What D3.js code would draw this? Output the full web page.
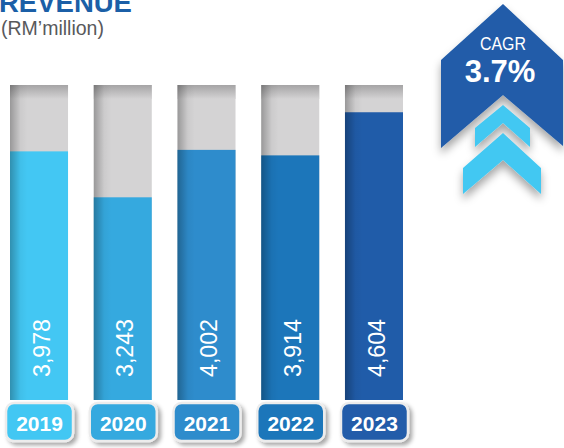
<!DOCTYPE html>
<html>
<head>
<meta charset="utf-8">
<script src="https://cdn.jsdelivr.net/npm/d3@7"></script>
<style>
  body { margin: 0; background: #fff; }
  svg { display: block; font-family: "Liberation Sans", Arial, Helvetica, sans-serif; }
</style>
</head>
<body>
<div id="chart"></div>
<script>
// revenue, RM'million
var years = ["2019", "2020", "2021", "2022", "2023"];
var revenue = [3978, 3243, 4002, 3914, 4604];
var barColors = ["#43c7f3", "#35a9df", "#2e8ccc", "#1c76ba", "#205ca9"];
var cagrLabel = "3.7%";

var W = 564, H = 448;
var svg = d3.select("#chart").append("svg")
    .attr("width", W)
    .attr("height", H);

var defs = svg.append("defs");

// darker top on the grey tracks
var gTop = defs.append("linearGradient").attr("id", "trackTop")
    .attr("x1", 0).attr("y1", 0).attr("x2", 0).attr("y2", 1);
gTop.append("stop").attr("offset", 0).attr("stop-color", "#a5a4a5");
gTop.append("stop").attr("offset", 1).attr("stop-color", "#d4d3d4");

// shading on the left edge of each bar
var gLeft = defs.append("linearGradient").attr("id", "leftShade")
    .attr("x1", 0).attr("y1", 0).attr("x2", 1).attr("y2", 0);
gLeft.append("stop").attr("offset", 0).attr("stop-color", "#000").attr("stop-opacity", 0.28);
gLeft.append("stop").attr("offset", 0.18).attr("stop-color", "#000").attr("stop-opacity", 0.04);
gLeft.append("stop").attr("offset", 0.3).attr("stop-color", "#000").attr("stop-opacity", 0);

var shadow = defs.append("filter").attr("id", "shadow")
    .attr("x", "-30%").attr("y", "-30%").attr("width", "170%").attr("height", "170%");
shadow.append("feDropShadow").attr("dx", 3).attr("dy", 3)
    .attr("stdDeviation", 2).attr("flood-color", "#000").attr("flood-opacity", 0.35);

var shadow2 = defs.append("filter").attr("id", "shadow2")
    .attr("x", "-30%").attr("y", "-30%").attr("width", "170%").attr("height", "170%");
shadow2.append("feDropShadow").attr("dx", 0).attr("dy", 6)
    .attr("stdDeviation", 4).attr("flood-color", "#000").attr("flood-opacity", 0.35);

var x = d3.scaleBand()
    .domain(years)
    .range([10, 403])
    .paddingInner(0.307)
    .paddingOuter(0);

var y = d3.scaleLinear()
    .domain([0, 5040])
    .range([400, 85]);

// title (its top runs off the page, as in the original)
svg.append("text")
    .attr("x", -1).attr("y", 12)
    .attr("font-size", 27.5).attr("font-weight", "bold")
    .attr("fill", "#1b5fa7")
    .text("REVENUE");
svg.append("text")
    .attr("x", 1).attr("y", 35)
    .attr("font-size", 19.5)
    .attr("fill", "#58595b")
    .text("(RM\u2019million)");

var bars = svg.selectAll("g.bar")
    .data(years)
    .enter().append("g")
    .attr("class", "bar");

// grey track
bars.append("rect")
    .attr("x", function(d){ return x(d); })
    .attr("y", y(5040))
    .attr("width", x.bandwidth())
    .attr("height", y(0) - y(5040))
    .attr("fill", "#d4d3d4");
bars.append("rect")
    .attr("x", function(d){ return x(d); })
    .attr("y", y(5040))
    .attr("width", x.bandwidth())
    .attr("height", 14)
    .attr("fill", "url(#trackTop)");

// value bar
bars.append("rect")
    .attr("x", function(d){ return x(d); })
    .attr("y", function(d, i){ return y(revenue[i]); })
    .attr("width", x.bandwidth())
    .attr("height", function(d, i){ return y(0) - y(revenue[i]); })
    .attr("fill", function(d, i){ return barColors[i]; });

bars.append("rect")
    .attr("x", function(d){ return x(d); })
    .attr("y", y(5040))
    .attr("width", x.bandwidth())
    .attr("height", y(0) - y(5040))
    .attr("fill", "url(#leftShade)");

// rotated values
bars.append("text")
    .attr("transform", function(d, i){
        return "translate(" + (x(d) + x.bandwidth() / 2 + 2) + ",377) rotate(-90)";
    })
    .attr("dy", "0.36em")
    .attr("font-size", 24)
    .attr("fill", "#fff")
    .attr("textLength", 58)
    .attr("lengthAdjust", "spacingAndGlyphs")
    .text(function(d, i){ return d3.format(",")(revenue[i]); });

// year tabs
var tabs = svg.selectAll("g.tab")
    .data(years)
    .enter().append("g")
    .attr("class", "tab");

tabs.append("rect")
    .attr("x", function(d){ return x(d) + x.bandwidth() / 2 - 33; })
    .attr("y", 403)
    .attr("width", 67)
    .attr("height", 38)
    .attr("rx", 8)
    .attr("fill", function(d, i){ return barColors[i]; })
    .attr("stroke", "#ececec")
    .attr("stroke-width", 2.5)
    .attr("filter", "url(#shadow)");

tabs.append("text")
    .attr("x", function(d){ return x(d) + x.bandwidth() / 2 + 0.5; })
    .attr("y", 431)
    .attr("text-anchor", "middle")
    .attr("font-size", 21)
    .attr("font-weight", "bold")
    .attr("fill", "#fff")
    .text(function(d){ return d; });

// CAGR badge
var badge = svg.append("g");
badge.append("path")
    .attr("d", d3.line()([[503, 4], [563, 60], [563, 146], [503, 95], [441, 148], [441, 60]]) + "Z")
    .attr("fill", "#205ca9")
    .attr("filter", "url(#shadow2)");

badge.append("path")
    .attr("d", d3.line()([[475, 128], [503, 105], [530, 128], [530, 147], [503, 123], [475, 147]]) + "Z")
    .attr("fill", "#43c8f2")
    .attr("filter", "url(#shadow2)");

badge.append("path")
    .attr("d", d3.line()([[463, 168], [503, 133], [541, 168], [541, 194], [503, 160], [463, 194]]) + "Z")
    .attr("fill", "#43c8f2")
    .attr("filter", "url(#shadow2)");

badge.append("text")
    .attr("x", 503).attr("y", 50)
    .attr("text-anchor", "middle")
    .attr("font-size", 19)
    .attr("fill", "#fff")
    .attr("textLength", 46)
    .attr("lengthAdjust", "spacingAndGlyphs")
    .text("CAGR");

badge.append("text")
    .attr("x", 500).attr("y", 82)
    .attr("text-anchor", "middle")
    .attr("font-size", 31)
    .attr("font-weight", "bold")
    .attr("fill", "#fff")
    .text(cagrLabel);
</script>
</body>
</html>
